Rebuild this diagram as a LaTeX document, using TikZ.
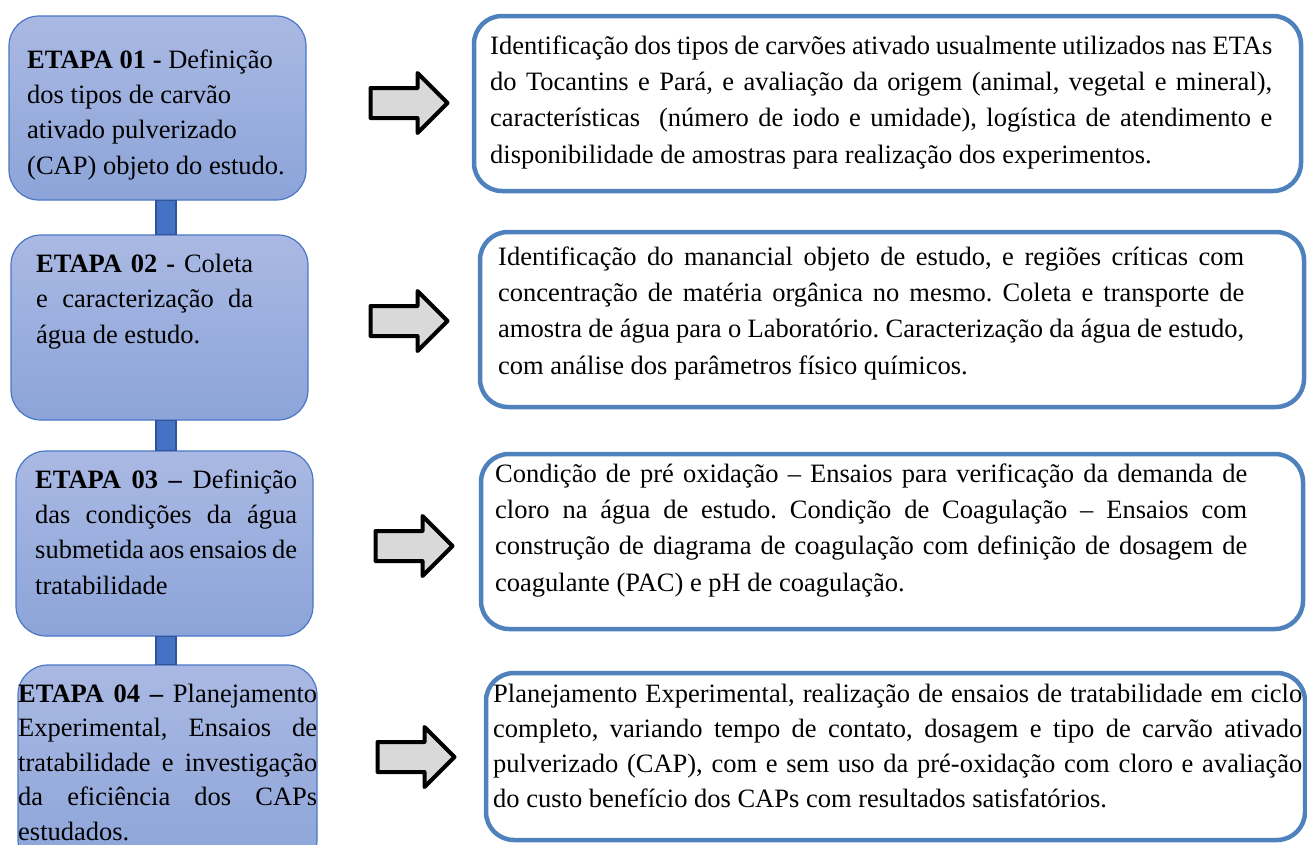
\documentclass[tikz,border=0pt]{standalone}
\usepackage{fontspec}
\setmainfont{Liberation Serif}
\usetikzlibrary{shapes.arrows}
\definecolor{stagetop}{HTML}{AAB9E3}
\definecolor{stagebot}{HTML}{8CA4D9}
\definecolor{stageline}{HTML}{4A76C6}
\definecolor{linkfill}{HTML}{4472C4}
\definecolor{linkline}{HTML}{2F5597}
\definecolor{descline}{HTML}{4F81BD}
\definecolor{arrowfill}{HTML}{D9D9D9}
\begin{document}
\frenchspacing
\begin{tikzpicture}[x=1pt,y=-1pt,
  stagebox/.style={rectangle, rounded corners=30pt, draw=stageline, line width=1.2pt,
    top color=stagetop, bottom color=stagebot, inner sep=0pt},
  descbox/.style={rectangle, rounded corners=28pt, draw=descline, line width=4.5pt,
    fill=white, inner sep=0pt},
  linkbar/.style={draw=linkline, line width=1.2pt, fill=linkfill},
  blockarrow/.style={single arrow, draw=black, line width=4pt, fill=arrowfill,
    line join=round, inner xsep=0pt, inner ysep=13pt, single arrow head extend=15pt,
    single arrow tip angle=90, minimum height=77pt},
  txt/.style={anchor=base west, inner sep=0pt, align=left,
    font=\fontsize{26.5}{35.3}\selectfont},
  dtxt/.style={anchor=base west, inner sep=0pt, align=left,
    font=\fontsize{26.5}{36.3}\selectfont}
]
\useasboundingbox (0,0) rectangle (1307,844);
\clip (0,0) rectangle (1307,844);

% stage boxes
\node[stagebox, minimum width=297pt, minimum height=184pt] (e1) at (157.5,108) {};
\node[stagebox, minimum width=297pt, minimum height=185pt] (e2) at (159.5,327.5) {};
\node[stagebox, minimum width=297pt, minimum height=185pt] (e3) at (164.5,543.5) {};
\node[stagebox, minimum width=299pt, minimum height=205pt] (e4) at (167.5,767.5) {};

% links between stages
\draw[linkbar] (156,0 |- e1.south) rectangle (176,0 |- e2.north);
\draw[linkbar] (156,0 |- e2.south) rectangle (176,0 |- e3.north);
\draw[linkbar] (156,0 |- e3.south) rectangle (176,0 |- e4.north);

% description boxes
\node[descbox, minimum width=827pt, minimum height=175pt] (r1) at (887.5,103.5) {};
\node[descbox, minimum width=824pt, minimum height=175pt] (r2) at (892,319.5) {};
\node[descbox, minimum width=822pt, minimum height=175pt] (r3) at (892,541.5) {};
\node[descbox, minimum width=819pt, minimum height=167pt] (r4) at (895.5,756.5) {};

% block arrows
\node[blockarrow] (a1) at (401.5,103) {};
\node[blockarrow] (a2) at (401.5,321) {};
\node[blockarrow] (a3) at (406.5,546) {};
\node[blockarrow] (a4) at (408.5,757) {};

% stage texts (anchor = baseline of the last line)
\node[txt] (t1) at (27,174) {\textbf{ETAPA 01 -} Definição\\dos tipos de carvão\\ativado pulverizado\\(CAP) objeto do estudo.};
\node[txt] (t2) at (36,343) {\makebox[217pt][s]{\textbf{ETAPA 02 -} Coleta}\\\makebox[217pt][s]{e caracterização da}\\água de estudo.};
\node[txt] (t3) at (35,594) {\makebox[262pt][s]{\textbf{ETAPA 03 –} Definição}\\\makebox[262pt][s]{das condições da água}\\\makebox[262pt][s]{submetida aos ensaios de}\\tratabilidade};
\node[txt, font=\fontsize{26.5}{34.5}\selectfont] (t4) at (18,840) {\makebox[299pt][s]{\textbf{ETAPA 04 –} Planejamento}\\\makebox[299pt][s]{Experimental, Ensaios de}\\\makebox[299pt][s]{tratabilidade e investigação}\\\makebox[299pt][s]{da eficiência dos CAPs}\\estudados.};

% description texts
\node[dtxt] (u1) at (490,163) {\makebox[782pt][s]{Identificação dos tipos de carvões ativado usualmente utilizados nas ETAs}\\\makebox[782pt][s]{do Tocantins e Pará, e avaliação da origem (animal, vegetal e mineral),}\\\makebox[782pt][s]{características\ \ (número de iodo e umidade), logística de atendimento e}\\disponibilidade de amostras para realização dos experimentos.};
\node[dtxt] (u2) at (498,374) {\makebox[746pt][s]{Identificação do manancial objeto de estudo, e regiões críticas com}\\\makebox[746pt][s]{concentração de matéria orgânica no mesmo. Coleta e transporte de}\\\makebox[746pt][s]{amostra de água para o Laboratório. Caracterização da água de estudo,}\\com análise dos parâmetros físico químicos.};
\node[dtxt] (u3) at (495,591) {\makebox[752pt][s]{Condição de pré oxidação – Ensaios para verificação da demanda de}\\\makebox[752pt][s]{cloro na água de estudo. Condição de Coagulação – Ensaios com}\\\makebox[752pt][s]{construção de diagrama de coagulação com definição de dosagem de}\\coagulante (PAC) e pH de coagulação.};
\node[dtxt, font=\fontsize{26.5}{34.7}\selectfont] (u4) at (493,807) {\makebox[809pt][s]{Planejamento Experimental, realização de ensaios de tratabilidade em ciclo}\\\makebox[809pt][s]{completo, variando tempo de contato, dosagem e tipo de carvão ativado}\\\makebox[809pt][s]{pulverizado (CAP), com e sem uso da pré-oxidação com cloro e avaliação}\\do custo benefício dos CAPs com resultados satisfatórios.};
\end{tikzpicture}
\end{document}
